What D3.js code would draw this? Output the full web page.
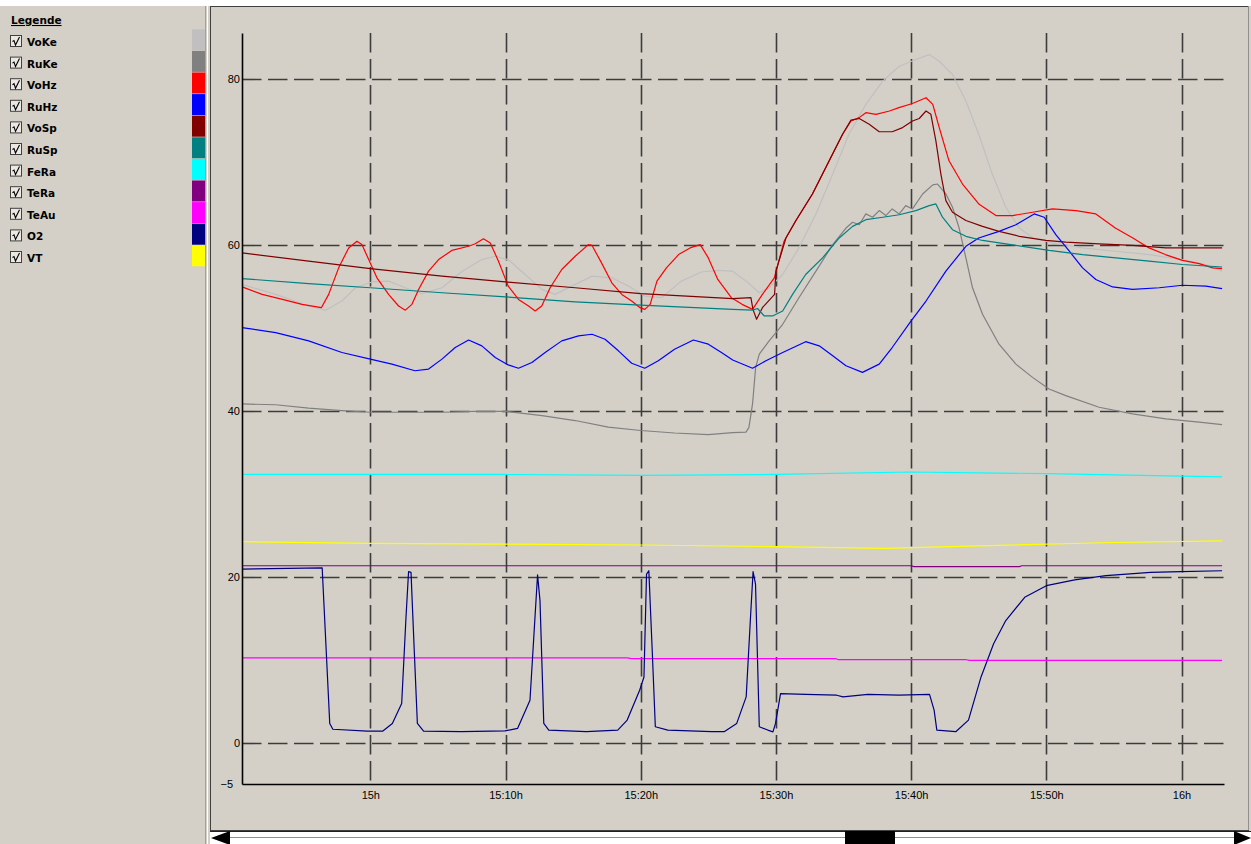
<!DOCTYPE html>
<html>
<head>
<meta charset="utf-8">
<script src="https://cdn.jsdelivr.net/npm/d3@7"></script>
<style>
  html, body { margin: 0; padding: 0; background: #d4d0c8; overflow: hidden; }
  svg { display: block; }
</style>
</head>
<body>
<svg id="chart" width="1251" height="844"></svg>
<script>
// Measurement series: each point is [minutes after 15:00, value]
const voKe = [[-9.48,55.2],[-7.0,54.0],[-4.56,52.6],[-3.3,52.1],[-2.1,53.2],[-1.1,54.8],[0.12,55.5],[1.35,55.6],[2.59,54.8],[3.8,54.1],[5.3,54.8],[6.8,56.8],[8.25,58.2],[9.24,58.6],[10.2,58.2],[11.45,56.4],[12.7,54.6],[13.67,54.0],[14.9,55.0],[16.4,56.2],[17.86,56.0],[19.1,55.0],[20.3,53.8],[21.55,53.6],[23.0,55.6],[24.5,56.7],[25.7,56.9],[26.8,56.8],[27.8,55.6],[28.77,54.2],[29.5,54.8],[30.5,56.4],[31.7,59.6],[32.96,63.7],[34.2,68.5],[35.4,73.3],[36.65,76.9],[37.9,79.7],[39.12,81.5],[40.35,82.3],[41.34,82.9],[42.08,82.1],[43.06,80.5],[44.05,77.3],[45.0,73.3],[46.0,68.5],[47.0,64.5],[48.0,62.0],[49.0,60.8],[50.46,60.2],[52.68,59.6],[55.14,59.2],[57.6,58.8],[60.07,58.2],[61.8,57.6],[63.0,56.8]];

const ruKe = [[-9.48,40.8],[-7.0,40.7],[-4.56,40.3],[-2.1,40.0],[0,39.8],[2.83,39.8],[5.3,39.8],[7.76,39.9],[10,39.9],[12.7,39.4],[15.15,38.8],[17.6,38.0],[20,37.6],[22.5,37.3],[25.0,37.1],[26.8,37.35],[27.78,37.4],[28.0,37.95],[28.27,40.8],[28.5,45.2],[28.77,46.8],[29.5,48.4],[30.5,50.4],[31.7,53.6],[32.96,56.8],[34.2,60.0],[35.18,62.0],[35.67,62.7],[36.16,62.4],[36.65,63.7],[37.15,63.3],[37.64,64.1],[38.13,63.5],[38.6,64.3],[39.12,63.7],[39.6,64.7],[40.1,64.3],[40.85,66.1],[41.6,67.2],[41.95,67.3],[42.57,66.1],[43.06,64.5],[43.55,62.0],[44.05,58.4],[44.54,54.8],[45.28,51.6],[46.5,48.0],[47.75,45.6],[48.98,44.0],[50.2,42.6],[51.44,41.8],[53.9,40.4],[56.37,39.6],[58.84,39.0],[61.3,38.6],[63.0,38.3]];

const voHz = [[-9.48,54.9],[-8.0,54.0],[-6.5,53.4],[-5.05,52.8],[-3.62,52.4],[-3.08,54.0],[-2.34,57.2],[-1.6,59.6],[-0.99,60.4],[-0.62,60.0],[-0.12,58.2],[0.49,56.0],[1.35,54.0],[2.09,52.6],[2.59,52.1],[3.08,52.8],[3.57,54.6],[4.31,56.8],[5.05,58.2],[6.03,59.3],[7.27,59.8],[7.76,60.1],[8.37,60.7],[8.87,60.2],[9.48,58.0],[10.2,55.0],[10.96,53.4],[11.7,52.6],[12.19,52.0],[12.68,52.6],[13.3,54.8],[14.16,57.0],[15.15,58.6],[16.13,60.0],[16.4,59.9],[17.1,57.8],[17.86,55.4],[18.6,54.0],[19.33,53.2],[19.95,52.4],[20.3,52.2],[20.7,52.8],[21.2,55.6],[21.9,57.2],[22.8,58.8],[23.65,59.6],[24.4,60.0],[25.0,58.4],[25.7,55.8],[26.7,53.6],[27.5,52.8],[28.27,52.2],[29.0,54.0],[29.88,56.0],[30.6,60.4],[31.48,62.9],[32.7,66.1],[33.94,70.1],[34.93,73.3],[35.55,74.9],[36.16,75.3],[36.65,75.9],[37.4,75.7],[38.4,76.1],[39.1,76.5],[40.1,77.0],[41.1,77.7],[41.6,76.9],[42.08,74.1],[42.8,70.1],[43.8,67.3],[45.0,64.9],[46.27,63.5],[47.5,63.5],[48.98,63.9],[50.46,64.3],[52.2,64.1],[53.66,63.7],[55.1,62.0],[56.4,60.8],[57.6,59.6],[58.8,58.8],[60.07,58.1],[61.3,57.7],[62.3,57.2],[63.0,57.1]];

const ruHz = [[-9.48,50.0],[-7.0,49.4],[-4.56,48.4],[-2.1,47.0],[0,46.2],[1.6,45.6],[3.3,44.8],[4.31,45.0],[5.3,46.2],[6.28,47.6],[7.27,48.5],[8.25,47.8],[9.24,46.4],[10.2,45.5],[10.96,45.1],[11.95,45.8],[12.93,47.0],[14.16,48.4],[15.4,49.0],[16.4,49.2],[17.36,48.6],[18.35,47.2],[19.33,45.7],[20.3,45.1],[21.3,46.0],[22.5,47.4],[23.9,48.5],[25.0,48.0],[25.97,47.0],[26.8,46.1],[28.27,45.1],[29.26,46.0],[30.5,47.0],[32.2,48.3],[33.2,47.8],[34.2,46.6],[35.18,45.4],[36.4,44.6],[37.64,45.6],[38.6,47.6],[40.0,50.8],[41.1,53.2],[42.57,56.8],[44.05,59.8],[45.0,60.8],[46.5,61.6],[47.75,62.4],[49.1,63.7],[49.84,63.3],[50.7,61.2],[51.7,59.2],[52.68,57.2],[53.66,55.8],[54.9,54.9],[56.37,54.6],[58.35,54.8],[60.07,55.1],[61.8,55.0],[63.0,54.7]];

const voSp = [[-9.48,59.0],[-4.56,58.0],[0,57.1],[5.3,56.2],[10,55.5],[15.15,54.8],[20,54.1],[26.8,53.5],[28.15,53.6],[28.3,52.2],[28.57,51.0],[29.0,52.4],[29.9,54.0],[30.0,56.8],[30.74,60.8],[31.48,62.9],[32.7,66.1],[33.94,70.1],[34.93,73.3],[35.55,75.0],[36.16,75.2],[36.9,74.5],[37.64,73.6],[38.6,73.6],[39.37,74.1],[40.1,74.9],[40.6,75.2],[41.1,76.1],[41.46,75.7],[41.83,72.5],[42.2,68.5],[42.57,65.3],[43.06,63.9],[44.05,62.9],[45.28,62.2],[46.5,61.6],[48.0,61.0],[49.97,60.5],[51.44,60.3],[53.9,60.1],[56.37,59.9],[58.84,59.6],[63.0,59.6]];

const ruSp = [[-9.48,55.9],[-4.56,55.3],[0,54.8],[5.3,54.2],[10,53.7],[15.15,53.1],[20,52.7],[26.8,52.2],[28.27,52.1],[28.64,52.3],[29.14,51.4],[29.75,51.4],[30.5,52.0],[31.23,54.0],[32.2,56.4],[33.45,58.4],[34.68,60.8],[35.67,62.2],[36.65,63.0],[37.9,63.3],[39.12,63.6],[40.35,64.1],[41.34,64.7],[41.83,64.9],[42.32,63.3],[43.06,61.8],[44.05,61.0],[45.28,60.5],[47.75,59.9],[50.2,59.3],[52.68,58.8],[55.14,58.4],[57.6,58.0],[60.07,57.6],[63.0,57.3]];

const feRa = [[-9.48,32.3],[0,32.3],[10,32.3],[20,32.2],[30,32.3],[40,32.6],[50,32.4],[63.0,32.0]];

const teRa = [[-9.48,21.3],[40,21.3],[40.2,21.2],[48,21.2],[48.2,21.3],[63.0,21.3]];

const teAu = [[-9.48,10.2],[19.0,10.2],[19.3,10.1],[34.4,10.1],[34.6,10.0],[44.0,10.0],[44.3,9.9],[63.0,9.9]];

const o2 = [[-9.48,20.9],[-3.56,21.05],[-3.0,2.3],[-2.77,1.6],[-0.23,1.38],[0.93,1.38],[1.63,2.3],[2.32,4.7],[2.64,15.1],[2.83,20.6],[3.01,20.5],[3.25,11.1],[3.48,2.3],[3.94,1.38],[6.72,1.3],[9.96,1.4],[10.89,1.7],[11.81,5.1],[12.18,15.1],[12.37,20.2],[12.55,17.1],[12.83,2.3],[13.2,1.5],[15.98,1.3],[18.3,1.5],[19.0,2.7],[19.92,6.3],[20.24,7.9],[20.43,20.3],[20.6,20.7],[20.85,11.1],[21.08,1.9],[22.0,1.5],[25.24,1.3],[26.17,1.3],[27.1,2.3],[27.8,5.5],[28.12,15.1],[28.31,20.6],[28.49,19.1],[28.77,1.9],[29.4,1.5],[29.78,1.28],[29.97,2.3],[30.34,5.9],[32.2,5.8],[34.5,5.7],[34.96,5.5],[36.8,5.8],[39.1,5.7],[41.36,5.8],[41.7,3.9],[41.9,1.5],[43.3,1.3],[44.24,2.7],[45.17,7.9],[46.1,11.9],[47.0,14.7],[48.4,17.5],[50.0,18.9],[52.1,19.6],[54.4,20.1],[57.7,20.5],[59.96,20.6],[63.0,20.7]];

const vt = [[-9.48,24.2],[0,24.0],[10,23.9],[20,23.8],[30,23.6],[38,23.4],[45,23.7],[55,24.1],[63.0,24.3]];

const seriesNames  = ["VoKe", "RuKe", "VoHz", "RuHz", "VoSp", "RuSp", "FeRa", "TeRa", "TeAu", "O2", "VT"];
const seriesColors = ["#c0c0c0", "#808080", "#ff0000", "#0000ff", "#800000", "#008080", "#00ffff", "#800080", "#ff00ff", "#000080", "#ffff00"];
const seriesData   = [voKe, ruKe, voHz, ruHz, voSp, ruSp, feRa, teRa, teAu, o2, vt];

const yTickValues = [-5, 0, 20, 40, 60, 80];
const yGridValues = [0, 20, 40, 60, 80];
const xTickMinutes = [0, 10, 20, 30, 40, 50, 60];
const xTickLabels = ["15h", "15:10h", "15:20h", "15:30h", "15:40h", "15:50h", "16h"];
const timeStart = -9.49, timeEnd = 63.14;   // minutes after 15:00
const yMin = -5, yMax = 85.5;

const base = new Date(2000, 0, 1, 15, 0, 0);
const toDate = m => new Date(base.getTime() + m * 60000);

const svg = d3.select("#chart");
const W = 1251, H = 844;
const plot = { left: 242, right: 1224, top: 33, bottom: 784 };
const bg = "#d4d0c8";

// ---- window frame ----
svg.append("rect").attr("width", W).attr("height", H).attr("fill", bg);
svg.append("rect").attr("x", 0).attr("y", 0).attr("width", W).attr("height", 6).attr("fill", "#ffffff");
svg.append("line").attr("x1", 205.5).attr("x2", 205.5).attr("y1", 6).attr("y2", H).attr("stroke", "#a0a0a0");
svg.append("line").attr("x1", 207.5).attr("x2", 207.5).attr("y1", 6).attr("y2", H).attr("stroke", "#ffffff");
svg.append("line").attr("x1", 210.5).attr("x2", 210.5).attr("y1", 6).attr("y2", 831).attr("stroke", "#404040");
svg.append("line").attr("x1", 210).attr("x2", 1249).attr("y1", 6.5).attr("y2", 6.5).attr("stroke", "#404040");
svg.append("line").attr("x1", 1248.5).attr("x2", 1248.5).attr("y1", 6).attr("y2", 831).attr("stroke", "#909090");
svg.append("line").attr("x1", 210).attr("x2", 1249).attr("y1", 830.5).attr("y2", 830.5).attr("stroke", "#404040");

// ---- horizontal scrollbar ----
const sb = svg.append("g");
sb.append("rect").attr("x", 210).attr("y", 831).attr("width", W - 210).attr("height", 13).attr("fill", "#ffffff");
sb.append("line").attr("x1", 210).attr("x2", W).attr("y1", 831.5).attr("y2", 831.5).attr("stroke", "#202020");
sb.append("line").attr("x1", 230).attr("x2", 1235).attr("y1", 837.5).attr("y2", 837.5).attr("stroke", "#909090");
sb.append("path").attr("d", "M211,838 L230,831 L230,845 Z").attr("fill", "#000");
sb.append("path").attr("d", "M1251,838 L1234,831 L1234,845 Z").attr("fill", "#000");
sb.append("rect").attr("x", 845).attr("y", 831).attr("width", 50).attr("height", 13).attr("fill", "#000");

// ---- legend ----
const leg = svg.append("g").attr("font-family", "DejaVu Sans, Verdana, sans-serif")
  .attr("font-weight", "bold").attr("font-size", "10.5px").attr("fill", "#000");
leg.append("text").attr("x", 11).attr("y", 24).attr("text-decoration", "underline").text("Legende");
const rowH = 21.6;
seriesNames.forEach((name, i) => {
  const b = 46 + i * rowH;
  const bx = 10.5, by = b - 10.5;
  leg.append("rect").attr("x", bx).attr("y", by).attr("width", 11).attr("height", 11)
    .attr("fill", "#ece9e2").attr("stroke", "#404040").attr("stroke-width", 1);
  leg.append("path")
    .attr("d", `M${bx + 2},${by + 6} L${bx + 3.5},${by + 5} L${bx + 5},${by + 9.5} L${bx + 9},${by + 1.5}`)
    .attr("fill", "none").attr("stroke", "#000").attr("stroke-width", 1.1);
  leg.append("text").attr("x", 27).attr("y", b).text(name);
  svg.append("rect").attr("x", 192).attr("y", 29.3 + i * rowH).attr("width", 13).attr("height", rowH - 0.6)
    .attr("fill", seriesColors[i]);
});

// ---- scales ----
const x = d3.scaleTime().domain([toDate(timeStart), toDate(timeEnd)]).range([plot.left, plot.right]);
const y = d3.scaleLinear().domain([yMin, yMax]).range([plot.bottom, plot.top]);

// ---- grid ----
const grid = svg.append("g").attr("stroke", "#3c3c3c").attr("stroke-width", 1.6)
  .attr("stroke-dasharray", "19.5,6.5").attr("fill", "none");
grid.selectAll("line.h").data(yGridValues).join("line").attr("class", "h")
  .attr("x1", plot.left).attr("x2", plot.right)
  .attr("y1", d => Math.round(y(d)) + 0.5).attr("y2", d => Math.round(y(d)) + 0.5);
grid.selectAll("line.v").data(xTickMinutes).join("line").attr("class", "v")
  .attr("x1", d => Math.round(x(toDate(d))) + 0.5).attr("x2", d => Math.round(x(toDate(d))) + 0.5)
  .attr("y1", plot.top).attr("y2", plot.bottom);

// ---- series ----
const lineGen = d3.line().x(d => x(toDate(d[0]))).y(d => y(d[1]));
const lines = svg.append("g").attr("fill", "none").attr("stroke-width", 1.2).attr("stroke-linejoin", "round");
seriesData.forEach((data, i) => {
  lines.append("path").attr("d", lineGen(data)).attr("stroke", seriesColors[i]);
});

// ---- axes ----
const yAxis = d3.axisLeft(y).tickValues(yTickValues).tickSize(0).tickPadding(2).tickSizeOuter(0);
const gy = svg.append("g").attr("transform", `translate(${plot.left},0)`).call(yAxis);
const xAxis = d3.axisBottom(x).tickValues(xTickMinutes.map(toDate)).tickSize(0).tickPadding(7.2)
  .tickSizeOuter(0).tickFormat((d, i) => xTickLabels[i]);
const gx = svg.append("g").attr("transform", `translate(0,${plot.bottom})`).call(xAxis);
[gx, gy].forEach(g => {
  g.select(".domain").attr("stroke", "#000").attr("stroke-width", 1.6);
  g.selectAll("text").attr("font-family", "Liberation Sans, Arial, sans-serif")
    .attr("font-size", "11px").attr("fill", "#000");
});
gy.selectAll(".tick text").filter(d => d < 0).attr("dx", -7);
</script>
</body>
</html>
